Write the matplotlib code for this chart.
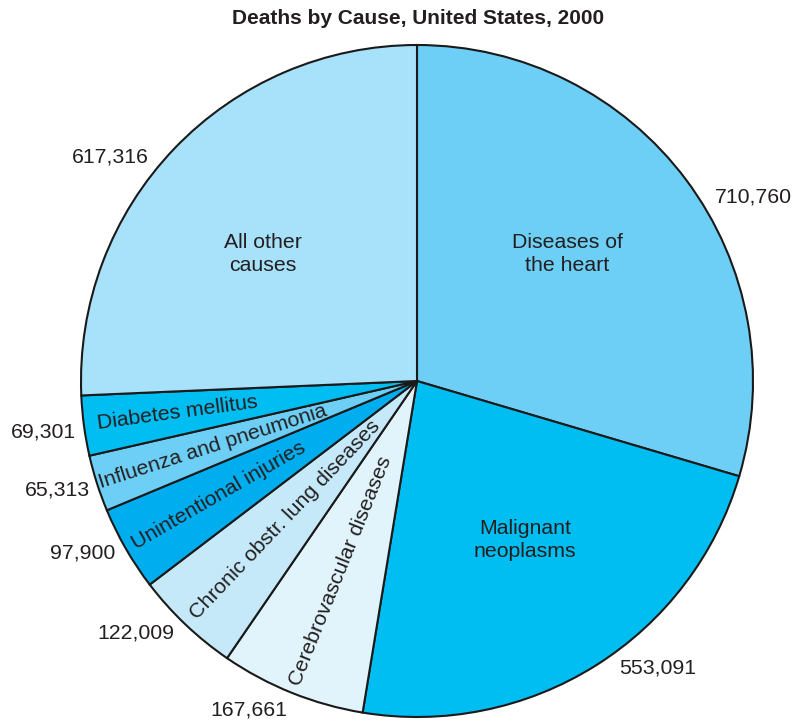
import numpy as np
import matplotlib
matplotlib.use("Agg")
import matplotlib.pyplot as plt

plt.rcParams['font.family'] = ['Liberation Sans', 'DejaVu Sans']

causes = ["Diseases of\nthe heart", "Malignant\nneoplasms", "Cerebrovascular diseases",
          "Chronic obstr. lung diseases", "Unintentional injuries",
          "Influenza and pneumonia", "Diabetes mellitus", "All other\ncauses"]
deaths = [710760, 553091, 167661, 122009, 97900, 65313, 69301, 617316]
value_labels = ["710,760", "553,091", "167,661", "122,009", "97,900", "65,313", "69,301", "617,316"]

colors = ["#6dcff6", "#00bdf2", "#e1f4fc", "#c5e9f9", "#00aeef", "#6dcff6", "#00bdf2", "#a8e1fa"]
txt = "#231f20"
fs = 15.3

W, H = 796, 723
fig = plt.figure(figsize=(W / 100, H / 100), dpi=100)
ax = fig.add_axes([0, 0, 1, 1])

cx, cy, R = 417, H - 381, 336
wedges, _ = ax.pie(deaths, colors=colors, startangle=90, counterclock=False,
                   center=(cx, cy), radius=R, frame=True,
                   wedgeprops=dict(edgecolor="#1a1a1a", linewidth=1.5))
ax.set_xlim(0, W)
ax.set_ylim(0, H)
ax.set_aspect('equal')
ax.axis('off')

# slice mid-angles (degrees, counter-clockwise from +x)
total = sum(deaths)
ends = 90 - 360 * np.cumsum(deaths) / total
starts = np.concatenate([[90], ends[:-1]])
mids = (starts + ends) / 2

# large slices: horizontal labels
big_pos = {0: (567, H - 254), 1: (525, H - 540), 7: (263, H - 254)}
for i, (x, y) in big_pos.items():
    ax.text(x, y, causes[i], ha='center', va='center', fontsize=fs,
            color=txt, linespacing=1.25)

# small slices: labels along the radius
rfrac = {2: 0.61, 3: 0.57, 4: 0.68, 5: 0.64, 6: 0.72}
for i, f in rfrac.items():
    a = np.deg2rad(mids[i])
    x = cx + f * R * np.cos(a)
    y = cy + f * R * np.sin(a)
    ax.text(x, y, causes[i], ha='center', va='center', fontsize=fs,
            color=txt, rotation=mids[i] + 180, rotation_mode='anchor')

# value labels outside the pie
out_pos = [(753, 197), (658, 668), (249, 710), (136, 633), (83, 553),
           (57, 490), (43, 432), (110, 157)]
for lab, (x, y) in zip(value_labels, out_pos):
    ax.text(x, H - y, lab, ha='center', va='center', fontsize=fs, color=txt)

ax.text(418, H - 19, "Deaths by Cause, United States, 2000", ha='center',
        va='center', fontsize=15, fontweight='bold', color=txt)

fig.savefig("out.png", dpi=100, facecolor="white")
